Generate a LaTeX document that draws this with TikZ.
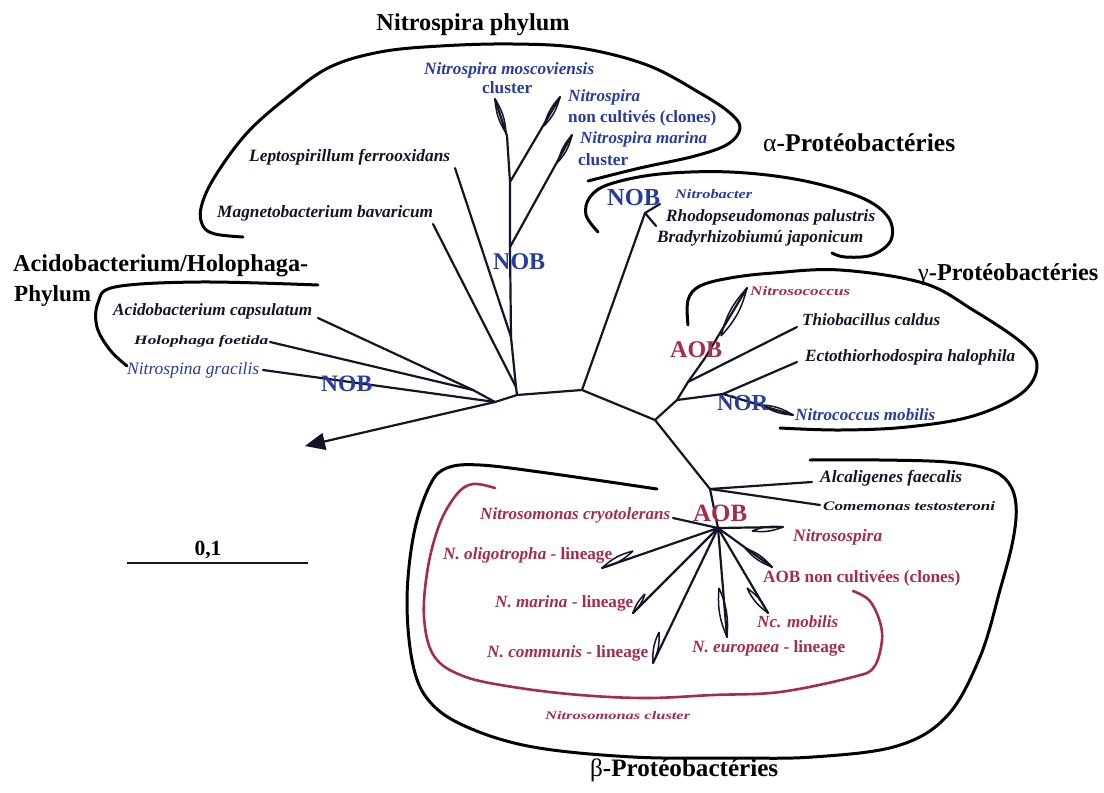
\documentclass[tikz,border=0pt]{standalone}
\usepackage{graphicx}
\usepackage{fontspec}
\setmainfont{Liberation Serif}
\usetikzlibrary{arrows.meta}
\definecolor{nblue}{RGB}{40,60,160}
\definecolor{nred}{RGB}{165,45,75}
\definecolor{ink}{RGB}{20,20,40}
\newcommand\fitw[2]{\resizebox{#1pt}{!}{#2}}
\newcommand\fitwh[3]{\resizebox{#1pt}{#2pt}{#3}}
\newcommand\lens[2]{\draw[lensst] (#1) to[bend left=14] (#2) to[bend left=14] (#1);}
\begin{document}
\begin{tikzpicture}[x=1pt,y=-1pt,
  br/.style={draw=ink,line width=2.2pt,line cap=round,line join=round},
  lensst/.style={draw=ink,line width=1.5pt,line join=round},
  clade/.style={draw=black,line width=3pt,line cap=round,line join=round},
  rclade/.style={draw=nred,line width=2.6pt,line cap=round,line join=round},
  lbl/.style={inner sep=0pt,anchor=west},
  sp/.style={lbl,text=ink,font=\bfseries\itshape},
  spb/.style={lbl,text=nblue,font=\bfseries\itshape},
  spr/.style={lbl,text=nred,font=\bfseries\itshape},
  ttl/.style={lbl,text=black,font=\bfseries},
  tagb/.style={lbl,text=nblue,font=\bfseries},
  tagr/.style={lbl,text=nred,font=\bfseries}]
\fill[white] (0,0) rectangle (1104,793);
\useasboundingbox (0,0) rectangle (1104,793);

% ---------- backbone coordinates ----------
\coordinate (J1) at (495,402);
\coordinate (J2) at (517,395);
\coordinate (J3) at (582,390);
\coordinate (J4) at (655,420);
\coordinate (J5) at (710,489);
\coordinate (J6) at (718,528);
\coordinate (T0) at (305,446);

\draw[br] (J1) -- (J2) -- (J3) -- (J4) -- (J5) -- (J6);
\draw[br,-{Triangle[length=20pt,width=17pt]}] (J1) -- (T0);

% ---------- Acidobacterium group ----------
\coordinate (Ja) at (473,390);
\coordinate (Ac) at (318,318);
\coordinate (Ho) at (270,342);
\coordinate (Ni) at (263,370);
\draw[br] (Ac) -- (Ja) -- (J1);
\draw[br] (Ho) -- (Ja);
\draw[br] (Ni) -- (J1);

% ---------- Nitrospira group ----------
\coordinate (Jm) at (516,387);
\coordinate (Nt1) at (511,337);
\coordinate (Nt2) at (510,247);
\coordinate (Nt3) at (510,182);
\coordinate (Nt4) at (507,136);
\coordinate (Mos) at (495,99);
\coordinate (MosL) at (506,133);
\coordinate (Mag) at (433,224);
\coordinate (Lep) at (455,168);
\coordinate (Mar) at (572,135);
\coordinate (MarL) at (558,162);
\coordinate (Unc) at (560,97);
\coordinate (UncL) at (544,126);
\draw[br] (J2) -- (Jm) -- (Nt1) -- (Nt2) -- (Nt3) -- (Nt4) -- (Mos);
\draw[br] (Mag) -- (Jm);
\draw[br] (Lep) -- (Nt1);
\draw[br] (Nt2) -- (Mar);
\draw[br] (Nt3) -- (Unc);
\lens{MosL}{Mos}
\lens{MarL}{Mar}
\lens{UncL}{Unc}

% ---------- alpha ----------
\coordinate (Ta) at (645,213);
\coordinate (Ta1) at (660,204);
\coordinate (Ta2) at (656,226);
\draw[br] (J3) -- (Ta) -- (Ta1);
\draw[br] (Ta) -- (Ta2);

% ---------- gamma ----------
\coordinate (G1) at (677,400);
\coordinate (G2) at (688,382);
\coordinate (G3) at (705,358);
\coordinate (G4) at (723,394);
\coordinate (Nsc) at (747,288);
\coordinate (NscL) at (721,336);
\coordinate (Thi) at (797,327);
\coordinate (Ect) at (797,362);
\coordinate (Ncm) at (793,415);
\coordinate (NcmL) at (762,405);
\draw[br] (J4) -- (G1) -- (G2) -- (G3) -- (Nsc);
\draw[br] (G2) -- (Thi);
\draw[br] (G1) -- (G4) -- (Ect);
\draw[br] (G4) -- (Ncm);
\lens{NscL}{Nsc}
\lens{NcmL}{Ncm}

% ---------- beta ----------
\coordinate (Alc) at (812,482);
\coordinate (Com) at (820,505);
\coordinate (Cry) at (673,518);
\coordinate (Nsp) at (783,527);
\coordinate (NspL) at (752,531);
\coordinate (Unb) at (772,567);
\coordinate (UnbL) at (745,548);
\coordinate (Ncb) at (768,613);
\coordinate (NcbL) at (747,588);
\coordinate (Eur) at (727,637);
\coordinate (EurL) at (719,588);
\coordinate (Cmn) at (653,663);
\coordinate (CmnL) at (659,632);
\coordinate (Mrn) at (633,613);
\coordinate (MrnL) at (645,594);
\coordinate (Oli) at (602,568);
\coordinate (OliL) at (633,551);
\draw[br] (J5) -- (Alc);
\draw[br] (J5) -- (Com);
\foreach \t in {Cry,Nsp,Unb,Ncb,Eur,Cmn,Mrn,Oli} \draw[br] (J6) -- (\t);
\lens{NspL}{Nsp}
\lens{UnbL}{Unb}
\lens{NcbL}{Ncb}
\lens{EurL}{Eur}
\lens{CmnL}{Cmn}
\lens{MrnL}{Mrn}
\lens{OliL}{Oli}

% ---------- clade outlines ----------
\draw[clade] plot[smooth,tension=0.6] coordinates {(243,237) (215,234) (203,226) (201,208) (214,178) (247,133) (290,95) (330,67) (380,52) (440,46) (513,44) (580,48) (647,65) (700,93) (730,113) (740,128) (728,144) (695,156) (640,168) (588,181)};
\draw[clade] plot[smooth,tension=0.6] coordinates {(598,232) (586,215) (590,197) (610,184) (660,174) (730,172) (800,180) (860,197) (888,217) (891,240) (872,255) (845,257) (832,253)};
\draw[clade] plot[smooth,tension=0.6] coordinates {(688,325) (688,300) (700,286) (730,278) (773,273) (840,270) (923,283) (973,310) (1022,343) (1037,366) (1022,393) (973,416) (907,427) (840,430) (780,428)};
\draw[clade] plot[smooth,tension=0.6] coordinates {(318,285) (200,282) (115,287) (98,303) (97,327) (110,350) (127,366)};
\draw[clade] plot[smooth,tension=0.6] coordinates {(657,489) (547,473) (480,465) (447,468) (430,485) (414,533) (407,600) (413,665) (430,702) (467,727) (533,747) (633,757) (733,758) (813,757) (897,746) (947,716) (980,657) (1000,590) (1013,540) (1016,505) (1008,482) (988,469) (947,462) (880,460) (810,460)};
\draw[rclade] plot[smooth,tension=0.6] coordinates {(495,488) (473,484) (457,494) (440,523) (428,567) (424,617) (434,656) (463,676) (513,687) (580,695) (647,698) (713,695) (780,692) (853,677) (874,667) (882,640) (879,619) (869,600) (853,591)};

% ---------- scale bar ----------
\coordinate (S1) at (127,563);
\coordinate (S2) at (308,563);
\draw[draw=ink,line width=2pt] (S1) -- (S2);
\node[ttl,anchor=center] (s01) at (208,550) {\fitw{27}{0,1}};

% ---------- labels ----------
\node[ttl,anchor=center] (tNit) at (473,25) {\fitw{193}{Nitrospira phylum}};
\node[spb] (lMos) at (424,70) {\fitw{170}{Nitrospira moscoviensis}};
\node[tagb] (lMosC) at (482,88) {\fitw{50}{cluster}};
\node[spb] (lUnc) at (568,97) {\fitw{72}{Nitrospira}};
\node[tagb] (lUnc2) at (568,118) {\fitw{148}{non cultivés (clones)}};
\node[spb] (lMar) at (580,139) {\fitw{127}{Nitrospira marina}};
\node[tagb] (lMarC) at (578,160) {\fitw{50}{cluster}};
\node[sp] (lLep) at (249,157) {\fitw{201}{Leptospirillum ferrooxidans}};
\node[sp] (lMag) at (217,213) {\fitw{216}{Magnetobacterium bavaricum}};
\node[tagb] (nob1) at (493,262) {\fitw{52}{NOB}};

\node[ttl] (tAci) at (13,266) {\fitw{295}{Acidobacterium/Holophaga-}};
\node[ttl] (tPhy) at (14,296) {\fitw{77}{Phylum}};
\node[sp] (lAc) at (113,311) {\fitw{199}{Acidobacterium capsulatum}};
\node[sp] (lHo) at (134,341) {\fitwh{134}{9}{Holophaga foetida}};
\node[lbl,text=nblue,font=\itshape] (lNi) at (127,370) {\fitw{132}{Nitrospina gracilis}};
\node[tagb] (nob2) at (321,384) {\fitw{51}{NOB}};

\node[ttl] (tAlp) at (763,143) {\fitw{192}{{\mdseries α}-Protéobactéries}};
\node[tagb] (nob3) at (607,198) {\fitw{53}{NOB}};
\node[spb] (lNb) at (675,194) {\fitwh{77}{9}{Nitrobacter}};
\node[sp] (lRh) at (666,217) {\fitw{209}{Rhodopseudomonas palustris}};
\node[sp] (lBr) at (657,238) {\fitw{206}{Bradyrhizobiumú japonicum}};

\node[ttl] (tGam) at (918,275) {\fitw{180}{{\mdseries γ}-Protéobactéries}};
\node[spr] (lNsc) at (750,291) {\fitwh{100}{9}{Nitrosococcus}};
\node[sp] (lThi) at (802,320) {\fitw{138}{Thiobacillus caldus}};
\node[sp] (lEct) at (805,357) {\fitw{210}{Ectothiorhodospira halophila}};
\node[spb] (lNcm) at (795,415) {\fitw{140}{Nitrococcus mobilis}};
\node[tagr] (aob1) at (670,350) {\fitw{52}{AOB}};
\node[tagb] (nor1) at (717,403) {\fitw{51}{NOR}};

\node[sp] (lAlc) at (820,478) {\fitw{142}{Alcaligenes faecalis}};
\node[sp] (lCom) at (823,506) {\fitwh{172}{9}{Comemonas testosteroni}};
\node[tagr] (aob2) at (693,513) {\fitw{54}{AOB}};
\node[spr] (lCry) at (480,515) {\fitw{190}{Nitrosomonas cryotolerans}};
\node[spr] (lNsp) at (793,537) {\fitw{89}{Nitrosospira}};
\node[tagr] (lUnb) at (763,578) {\fitw{197}{AOB non cultivées (clones)}};
\node[spr] (lNcb) at (757,622) {\fitw{81}{Nc. mobilis}};
\node[tagr] (lEur) at (692,648) {\fitw{153}{\itshape N. europaea\upshape{} - lineage}};
\node[tagr] (lCmn) at (487,653) {\fitw{161}{\itshape N. communis\upshape{} - lineage}};
\node[tagr] (lMrn) at (495,603) {\fitw{138}{\itshape N. marina\upshape{} - lineage}};
\node[tagr] (lOli) at (443,555) {\fitw{169}{\itshape N. oligotropha\upshape{} - lineage}};
\node[spr] (lClu) at (545,716) {\fitwh{145}{8}{Nitrosomonas cluster}};
\node[ttl] (tBet) at (590,770) {\fitw{188}{{\mdseries β}-Protéobactéries}};
\end{tikzpicture}
\end{document}
